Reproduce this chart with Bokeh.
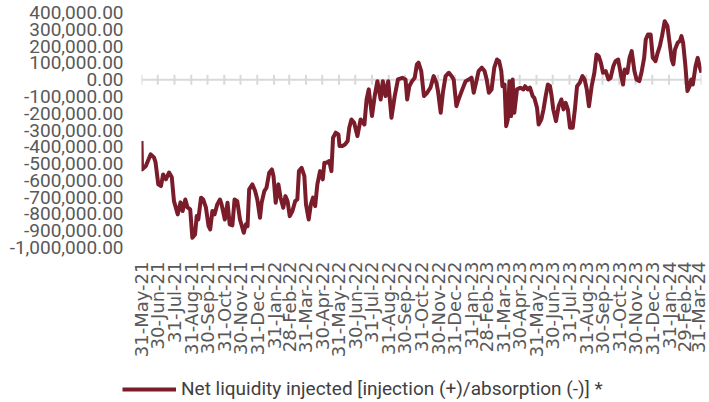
import math
import pandas as pd
from bokeh.plotting import figure
from bokeh.layouts import column
from bokeh.models import Range1d, FixedTicker, NumeralTickFormatter, Span, Legend, LegendItem
from bokeh.embed import file_html
from bokeh.resources import INLINE

# ---- data ----
start_date = "2021-05-31"
# observation day offsets from 31-May-21
days = [
    0, 1, 8, 17, 23, 26, 31, 36, 40, 45,
    51, 56, 60, 67, 72, 76, 81, 85, 90, 94,
    99, 102, 105, 110, 114, 119, 124, 127, 131, 135,
    140, 145, 148, 154, 159, 163, 168, 172, 177, 182,
    189, 193, 196, 199, 205, 210, 214, 219, 222, 227,
    231, 236, 241, 244, 248, 253, 257, 262, 266, 270,
    274, 279, 284, 288, 291, 296, 301, 304, 309, 313,
    317, 321, 325, 330, 335, 338, 342, 347, 351, 354,
    359, 364, 366, 371, 376, 381, 384, 388, 393, 399,
    405, 412, 416, 420, 426, 431, 436, 442, 446, 451,
    456, 462, 468, 474, 482, 488, 491, 495, 500, 505,
    509, 512, 517, 522, 528, 534, 540, 545, 548, 553,
    557, 562, 568, 573, 577, 582, 586, 593, 599, 605,
    610, 614, 619, 623, 629, 634, 638, 642, 647, 652,
    657, 661, 665, 667, 671, 674, 677, 680, 683, 686,
    689, 694, 700, 706, 709, 714, 718, 723, 726, 731,
    734, 739, 743, 747, 751, 755, 758, 761, 766, 771,
    776, 780, 784, 788, 792, 797, 801, 805, 810, 815,
    819, 823, 827, 832, 837, 841, 845, 849, 853, 858,
    863, 867, 872, 876, 881, 886, 890, 893, 898, 902,
    906, 911, 915, 920, 924, 929, 932, 936, 941, 945,
    950, 954, 958, 962, 967, 972, 976, 980, 983, 986,
    991, 995, 998, 1001, 1005, 1009, 1013, 1016, 1019, 1024,
    1028, 1032, 1035,
]
# net liquidity injected, thousands
net_liquidity_k = [
    -366, -535, -515, -445, -463, -493, -624, -634, -565, -594,
    -553, -582, -724, -803, -731, -783, -714, -761, -773, -942,
    -922, -813, -833, -703, -714, -761, -873, -892, -783, -803,
    -743, -714, -743, -833, -733, -862, -868, -714, -724, -833,
    -912, -862, -873, -654, -624, -664, -714, -823, -733, -664,
    -644, -555, -535, -575, -733, -624, -703, -763, -694, -724,
    -813, -783, -724, -714, -545, -525, -575, -743, -833, -743,
    -703, -753, -624, -545, -594, -495, -495, -485, -545, -346,
    -316, -326, -396, -396, -386, -366, -286, -237, -257, -336,
    -237, -267, -118, -58, -217, -98, -9, -118, -9, -98,
    -9, -227, -98, 1, 11, 1, -118, -39, -9, 11,
    91, 101, 51, -98, -78, -48, 21, -18, -68, -197,
    -78, 21, 41, 21, 1, -158, -118, -58, -9, 1,
    11, -78, -9, 51, 71, 51, 1, -78, -58, 71,
    120, 110, 51, -39, -29, -277, -237, -9, -217, 1,
    -197, -58, -48, -58, -39, -58, -48, -98, -108, -167,
    -267, -237, -177, -98, -29, -39, -98, -177, -247, -158,
    -118, -177, -138, -177, -286, -286, -177, -39, -18, 21,
    1, -58, -158, -39, 41, 150, 140, 101, 41, 51,
    1, 11, 80, 110, 120, 31, -29, 61, 41, 130,
    170, 51, 1, -9, 41, 130, 239, 269, 269, 130,
    110, 160, 200, 259, 348, 319, 220, 120, 91, 180,
    220, 229, 259, 220, 91, -68, -39, 1, -29, 80,
    130, 71, 41,
]
month_labels = [
    "31-May-21", "30-Jun-21", "31-Jul-21", "31-Aug-21", "30-Sep-21", "31-Oct-21",
    "30-Nov-21", "31-Dec-21", "31-Jan-22", "28-Feb-22", "31-Mar-22", "30-Apr-22",
    "31-May-22", "30-Jun-22", "31-Jul-22", "31-Aug-22", "30-Sep-22", "31-Oct-22",
    "30-Nov-22", "31-Dec-22", "31-Jan-23", "28-Feb-23", "31-Mar-23", "30-Apr-23",
    "31-May-23", "30-Jun-23", "31-Jul-23", "31-Aug-23", "30-Sep-23", "31-Oct-23",
    "30-Nov-23", "31-Dec-23", "31-Jan-24", "29-Feb-24", "31-Mar-24",
]
y_ticks = list(range(-1000000, 400001, 100000))
series_label = "Net liquidity injected [injection (+)/absorption (-)] *"

values = [v * 1000 for v in net_liquidity_k]
t0 = pd.Timestamp(start_date)
tick_days = [int((pd.to_datetime(s, format="%d-%b-%y") - t0).days) for s in month_labels]

LINE = "#7b1c2b"
GRAY = "#595959"
AXIS_GRAY = "#d9d9d9"

p = figure(frame_width=560, frame_height=235, output_backend="svg", toolbar_location=None,
           x_range=Range1d(0, tick_days[-1]), y_range=Range1d(y_ticks[0], y_ticks[-1]),
           min_border_left=141, min_border_right=7, min_border_top=12, min_border_bottom=120)
p.frame_align = False
p.outline_line_color = None
p.background_fill_color = "white"
p.border_fill_color = "white"
p.xgrid.visible = False
p.ygrid.visible = False

zero = Span(location=0, dimension="width", line_color=AXIS_GRAY, line_width=2, level="underlay")
p.add_layout(zero)
p.scatter(x=tick_days, y=[0] * len(tick_days), marker="dash", size=10, angle=math.pi / 2,
          line_color=AXIS_GRAY, line_width=2)

p.line(days, values, line_color=LINE, line_width=4, line_join="round")

# y axis
p.yaxis.ticker = FixedTicker(ticks=y_ticks)
p.yaxis.formatter = NumeralTickFormatter(format="0,0.00")
p.yaxis.axis_line_color = None
p.yaxis.major_tick_line_color = None
p.yaxis.minor_tick_line_color = None
p.yaxis.major_tick_out = 0
p.yaxis.major_tick_in = 0
p.yaxis.major_label_standoff = 18
p.yaxis.major_label_text_font = "Roboto"
p.yaxis.major_label_text_font_size = "19px"
p.yaxis.major_label_text_color = GRAY

# x axis
p.xaxis.ticker = FixedTicker(ticks=tick_days)
p.xaxis.major_label_overrides = {d: s for d, s in zip(tick_days, month_labels)}
p.xaxis.major_label_orientation = math.pi / 2
p.xaxis.axis_line_color = None
p.xaxis.major_tick_line_color = None
p.xaxis.minor_tick_line_color = None
p.xaxis.major_tick_out = 0
p.xaxis.major_tick_in = 0
p.xaxis.major_label_standoff = 14
p.xaxis.major_label_text_font = "DejaVu Sans"
p.xaxis.major_label_text_font_size = "18px"
p.xaxis.major_label_text_color = GRAY

# legend strip below the chart
leg = figure(width=708, height=33, output_backend="svg", toolbar_location=None,
             x_range=Range1d(0, 1), y_range=Range1d(0, 1), x_axis_type=None, y_axis_type=None,
             min_border=0)
leg.frame_align = False
leg.outline_line_color = None
leg.xgrid.visible = False
leg.ygrid.visible = False
r = leg.line(x=[0, 1], y=[-5, -5], line_color=LINE, line_width=4)
legend = Legend(items=[LegendItem(label=series_label, renderers=[r])],
                location=(122, 0), padding=0, margin=0, glyph_width=54, glyph_height=20,
                label_height=20, label_standoff=5, border_line_color=None,
                background_fill_alpha=0, label_text_font="Roboto",
                label_text_font_size="19px", label_text_color="#404040")
leg.add_layout(legend, "center")

layout = column(p, leg, spacing=0)
open("out.html", "w").write(file_html(layout, INLINE))
